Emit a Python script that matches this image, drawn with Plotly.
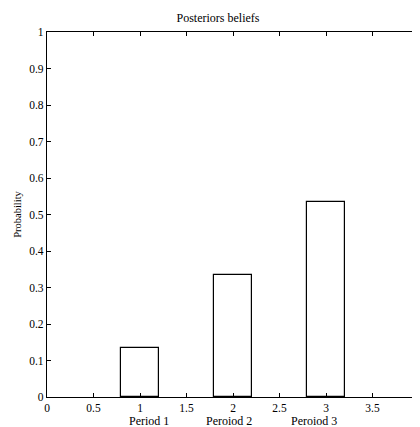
import plotly.graph_objects as go

periods = [1, 2, 3]
probabilities = [0.133, 0.333, 0.533]
period_labels = ["Period 1", "Peroiod 2", "Peroiod 3"]
label_positions = [1.10, 1.96, 2.87]

FONT = "Liberation Serif"

fig = go.Figure()
fig.add_trace(go.Bar(
    x=periods, y=probabilities, width=0.4,
    marker=dict(color="white", line=dict(color="black", width=1.2)),
    showlegend=False,
))

for xp, lab in zip(label_positions, period_labels):
    fig.add_annotation(x=xp, y=0, xref="x", yref="paper", yanchor="top",
                       yshift=-15, text=lab, showarrow=False,
                       font=dict(family=FONT, size=12, color="black"))

# page body has an 8px margin; compensate so the plot area sits at the reference pixels
fig.update_layout(
    width=420, height=419,
    margin=dict(l=39, r=6, t=24, b=30),
    plot_bgcolor="white", paper_bgcolor="white",
    font=dict(family=FONT, size=11.5, color="black"),
    title=dict(text="Posteriors beliefs", x=0.5, xanchor="center",
               y=1 - 10 / 419, yanchor="middle",
               font=dict(family=FONT, size=12, color="black")),
    bargap=0,
)
fig.update_xaxes(range=[0, 4], tick0=0, dtick=0.5, showgrid=False, zeroline=False,
                 showline=True, linecolor="black", linewidth=1.2, mirror="allticks",
                 ticks="inside", ticklen=4, tickcolor="black")
fig.update_yaxes(range=[0, 1], tick0=0, dtick=0.1, showgrid=False, zeroline=False,
                 showline=True, linecolor="black", linewidth=1.2, mirror="allticks",
                 ticks="inside", ticklen=4, tickcolor="black",
                 title=dict(text="Probability", standoff=5,
                            font=dict(family=FONT, size=10.5, color="black")))

fig.write_html("out.html")
